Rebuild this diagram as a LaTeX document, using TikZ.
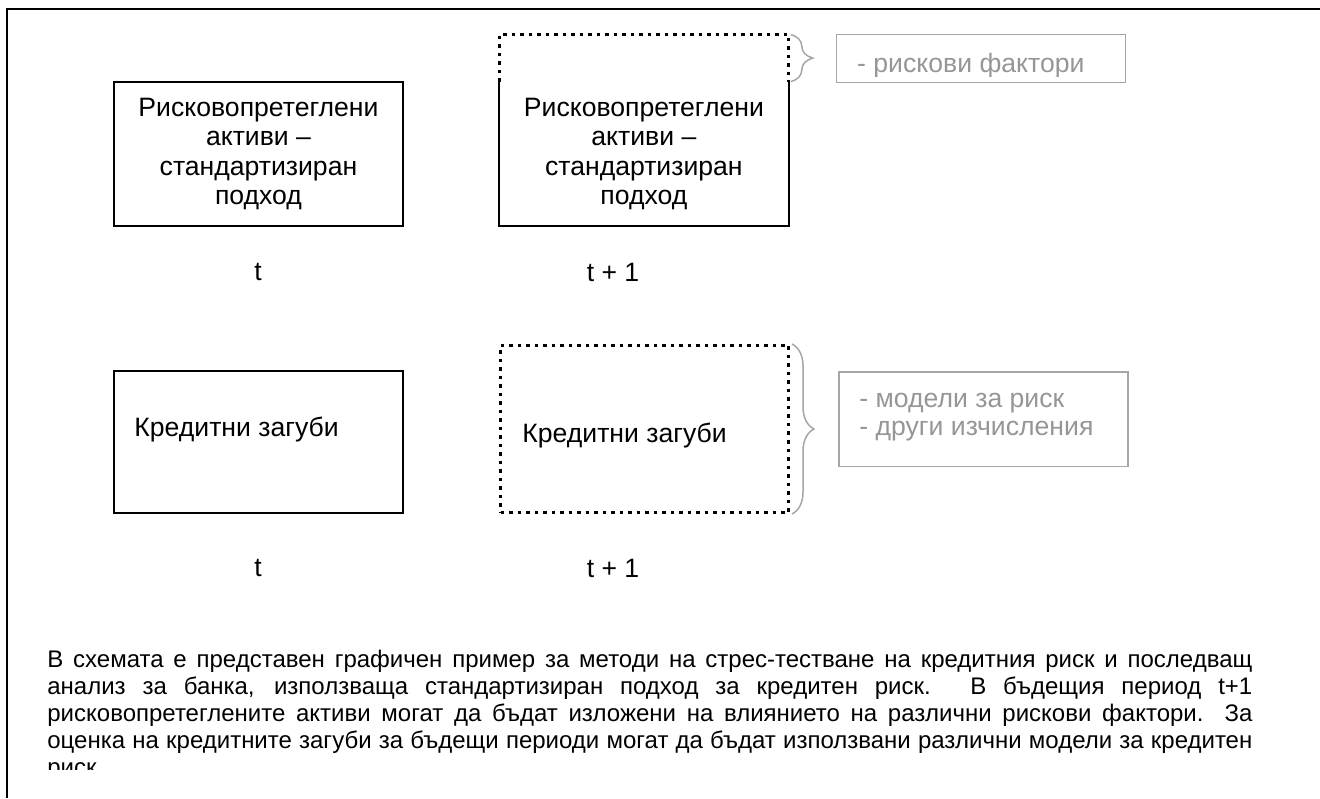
\documentclass[tikz,border=0pt]{standalone}
\usepackage{fontspec}
\setmainfont{Liberation Sans}
\usetikzlibrary{positioning, decorations.pathreplacing}
\definecolor{greyLine}{RGB}{166,166,166}
\definecolor{greyText}{RGB}{150,150,150}
\tikzstyle{recNode} = [rectangle, minimum width=144.5pt, minimum height=72pt, text centered, align=center, inner sep=0pt, font=\fontsize{13.3}{14.8}\selectfont]
\tikzstyle{recNodeS} = [recNode, draw=black, line width=1pt]
\tikzstyle{recNodeD} = [recNode, draw=black, line width=1.5pt, dash pattern=on 1.75pt off 2.5pt]
\tikzstyle{greyNode} = [rectangle, minimum width=144.5pt, draw=greyLine, line width=0.75pt]
\tikzstyle{eNode} = [inner sep=0pt, font=\fontsize{13.3}{14}\selectfont]
\tikzstyle{dotLine} = [draw=black, line width=1.5pt, dash pattern=on 1.75pt off 2.5pt]
\tikzstyle{braceG} = [decorate, decoration={brace, amplitude=11pt}, draw=greyLine, line width=0.75pt]
\tikzstyle{frameLine} = [line width=1.25pt]

\begin{document}
\begin{tikzpicture}[x=0.5pt, y=0.5pt]
        \useasboundingbox (0,0) rectangle (1320,798);
        \draw [frameLine] (1320,789) -- (7,789) -- (7,0);

        % risk weighted assets, t and t+1
        \node (rwa0) [recNodeS] at (258.5,644) {Рисковопретеглени\\активи –\\стандартизиран\\подход};
        \node (rwa1) [recNode, right=47.5pt of rwa0] {Рисковопретеглени\\активи –\\стандартизиран\\подход};
        \coordinate (rwaTop) at ([yshift=23.5pt]rwa1.north west);
        \draw [line width=1pt] (rwa1.north west) -- (rwa1.south west) -- (rwa1.south east) -- (rwa1.north east);
        \draw [dotLine] (rwa1.north west) -- (rwaTop) -| (rwa1.north east);

        \node (risk) [greyNode, minimum height=24pt, anchor=north west] at ([xshift=23.5pt, yshift=0.5pt]rwaTop -| rwa1.east) {};
        \begin{scope}
            \clip (risk.north west) rectangle ([yshift=3.5pt]risk.south east);
            \node (riskTxt) [eNode, text=greyText, anchor=base west] at ([xshift=10.5pt, yshift=-7pt]risk.west) {- рискови фактори};
        \end{scope}
        \draw [braceG] ([xshift=1pt]rwaTop -| rwa1.east) -- ([xshift=1pt]rwa1.north east);

        \node (t0) [eNode] at (258,526) {t};
        \node (t1) [eNode] at (613,526) {t + 1};

        % credit losses, t and t+1
        \node (loss0) [recNodeS, minimum height=71pt] at (258.5,356) {};
        \node (loss0Txt) [eNode, anchor=west] at ([xshift=10.5pt, yshift=6pt]loss0.west) {Кредитни загуби};
        \node (loss1) [recNodeD, minimum width=144pt, minimum height=83.5pt, anchor=south west] at ([xshift=47.5pt]loss0.south east) {};
        \node (loss1Txt) [eNode, anchor=west] at ([xshift=11.5pt, yshift=-3.25pt]loss1.west) {Кредитни загуби};

        \node (model) [greyNode, minimum height=47pt, anchor=south west] at ([xshift=24pt, yshift=23.5pt]loss1.south east) {};
        \node (modelTxt) [eNode, text=greyText, align=left, anchor=west] at ([xshift=10.5pt, yshift=1pt]model.west) {- модели за риск\\- други изчисления};
        \draw [braceG] ([xshift=1pt]loss1.north east) -- ([xshift=1pt]loss1.south east);

        \node (t2) [eNode] at (258,230) {t};
        \node (t3) [eNode] at (613,230) {t + 1};

        % note below the scheme
        \begin{scope}
            \clip (0,29) rectangle (1320,798);
            \node (note) [anchor=base west, inner sep=0pt, align=left, font=\fontsize{12}{13.5}\selectfont] at (47,23)
                {\makebox[602.5pt][s]{В схемата е представен графичен пример за методи на стрес-тестване на кредитния риск и последващ}\\
                 \makebox[602.5pt][s]{анализ за банка, използваща стандартизиран подход за кредитен риск. В бъдещия период t+1}\\
                 \makebox[602.5pt][s]{рисковопретеглените активи могат да бъдат изложени на влиянието на различни рискови фактори. За}\\
                 \makebox[602.5pt][s]{оценка на кредитните загуби за бъдещи периоди могат да бъдат използвани различни модели за кредитен}\\
                 риск};
        \end{scope}
\end{tikzpicture}
\end{document}
